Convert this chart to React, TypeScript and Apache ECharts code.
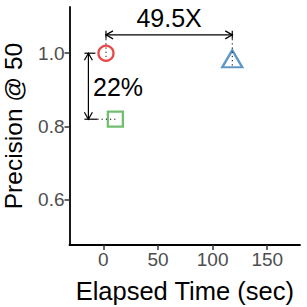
import React, { useEffect, useRef } from "react";
import * as echarts from "echarts";

const methodNames = ["Exact", "Baseline", "Approx"];
const methodSymbols = ["circle", "triangle", "rect"];
const methodColors = ["#E41A1C", "#377EB8", "#4DAF4A"];
const elapsedSec = [2.4, 118, 11];
const precisionAt50 = [1.0, 0.985, 0.82];

const xTicks = [0, 50, 100, 150];
const yTicks = [0.6, 0.8, 1.0];

// annotations (data coordinates)
const speedupLabel = "49.5X";
const speedupArrowY = 1.05;
const speedupLabelY = 1.097;
const dropLabel = "22%";
const dropArrowX = -13.7;
const dropLabelX = -9.5;
const dropLabelY = 0.907;

const FONT = "'Liberation Sans', Arial, Helvetica, sans-serif";

export default function App() {
  const ref = useRef<HTMLDivElement>(null);
  useEffect(() => {
    if (!ref.current) return;
    const chart = echarts.init(ref.current, null, { renderer: "svg" });

    const renderAnnotations = (params: any, api: any) => {
      const c = (x: number, y: number) => api.coord([x, y]);
      const stroke = { stroke: "#000", lineWidth: 1.2 };
      const dotted = { stroke: "#000", lineWidth: 1, lineDash: [1.2, 3] };
      const children: any[] = [];
      const line = (p1: number[], p2: number[], style: any) =>
        children.push({ type: "line", shape: { x1: p1[0], y1: p1[1], x2: p2[0], y2: p2[1] }, style });
      const head = (tip: number[], dir: number[]) => {
        const L = 7, W = 4;
        const bx = tip[0] - dir[0] * L, by = tip[1] - dir[1] * L;
        const px = -dir[1], py = dir[0];
        children.push({
          type: "polyline",
          shape: { points: [[bx + px * W, by + py * W], tip, [bx - px * W, by - py * W]] },
          style: { ...stroke, fill: null },
        });
      };

      // horizontal speed-up arrow
      const a1 = c(elapsedSec[0], speedupArrowY);
      const a2 = c(elapsedSec[1], speedupArrowY);
      line(a1, a2, stroke);
      head(a1, [-1, 0]);
      head(a2, [1, 0]);
      line([a1[0], a1[1] - 4], [a1[0], a1[1] + 4], stroke);
      line([a2[0], a2[1] - 4], [a2[0], a2[1] + 4], stroke);
      line(a1, c(elapsedSec[0], precisionAt50[0] - 0.01), dotted);
      line(a2, c(elapsedSec[1], precisionAt50[1] - 0.02), dotted);
      const t1 = c((elapsedSec[0] + elapsedSec[1]) / 2, speedupLabelY);
      children.push({
        type: "text",
        style: { text: speedupLabel, x: t1[0], y: t1[1], fill: "#000", font: `25px ${FONT}`, align: "center", verticalAlign: "middle", textAlign: "center", textVerticalAlign: "middle" },
      });

      // vertical precision-drop arrow
      const b1 = c(dropArrowX, precisionAt50[0]);
      const b2 = c(dropArrowX, precisionAt50[2]);
      line(b1, b2, stroke);
      head(b1, [0, -1]);
      head(b2, [0, 1]);
      line([b1[0] - 4, b1[1]], [b1[0] + 7, b1[1]], stroke);
      line([b2[0] - 4, b2[1]], [b2[0] + 9, b2[1]], stroke);
      line([b2[0] + 9, b2[1]], c(elapsedSec[2], precisionAt50[2]), dotted);
      const t2 = c(dropLabelX, dropLabelY);
      children.push({
        type: "text",
        style: { text: dropLabel, x: t2[0], y: t2[1], fill: "#000", font: `25px ${FONT}`, align: "left", verticalAlign: "middle", textAlign: "left", textVerticalAlign: "middle" },
      });
      return { type: "group", children };
    };

    const scatterSeries = methodNames.map((name, i) => ({
      type: "scatter",
      name,
      symbol: methodSymbols[i],
      symbolSize: methodSymbols[i] === "triangle" ? [20, 17] : 15,
      itemStyle: { color: "rgba(0,0,0,0)", borderColor: methodColors[i], borderWidth: 2.3 },
      data: [[elapsedSec[i], precisionAt50[i]]],
      z: 3,
    }));

    chart.setOption({
      animation: false,
      grid: { left: 69.5, right: 7, top: 7, bottom: 62, containLabel: false, outerBoundsMode: "none" },
      xAxis: {
        type: "value",
        min: -31,
        max: 180,
        name: "Elapsed Time (sec)",
        nameLocation: "middle",
        nameGap: 33,
        nameTextStyle: { color: "#000", fontSize: 25.5, fontFamily: FONT },
        splitLine: { show: false },
        axisLine: { show: true, onZero: false, lineStyle: { color: "#000", width: 1.8 } },
        axisTick: { show: true, length: 5, customValues: xTicks, lineStyle: { color: "#333", width: 1.5 } },
        axisLabel: { customValues: xTicks, color: "#4D4D4D", fontSize: 19, fontFamily: FONT, margin: 5 },
      },
      yAxis: {
        type: "value",
        min: 0.477,
        max: 1.126,
        name: "Precision @ 50",
        nameLocation: "middle",
        nameGap: 44,
        nameTextStyle: { color: "#000", fontSize: 24.5, fontFamily: FONT },
        splitLine: { show: false },
        axisLine: { show: true, onZero: false, lineStyle: { color: "#000", width: 1.8 } },
        axisTick: { show: true, length: 5, customValues: yTicks, lineStyle: { color: "#333", width: 1.5 } },
        axisLabel: { customValues: yTicks, color: "#4D4D4D", fontSize: 19, fontFamily: FONT, margin: 5, formatter: (v: number) => v.toFixed(1) },
      },
      series: [
        ...scatterSeries,
        {
          type: "custom",
          coordinateSystem: "cartesian2d",
          clip: false,
          silent: true,
          renderItem: renderAnnotations,
          data: [[0, 1]],
          z: 4,
        },
      ],
    });
    return () => chart.dispose();
  }, []);
  return <div ref={ref} style={{ width: 307, height: 307, position: "absolute", left: 0, top: 0 }} />;
}
